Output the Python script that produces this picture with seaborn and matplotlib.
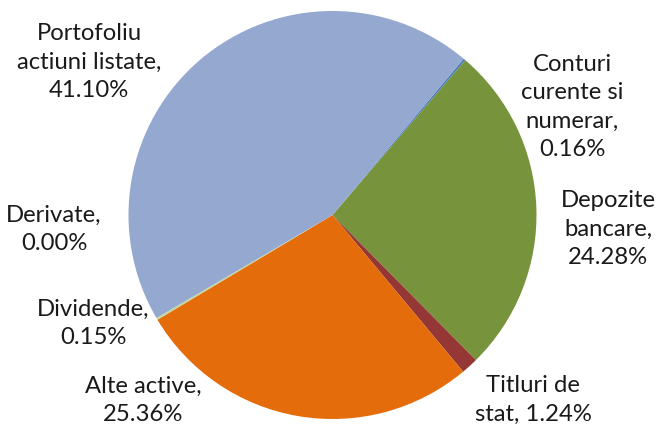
import matplotlib
matplotlib.use("Agg")
import matplotlib.pyplot as plt
import seaborn as sns

sns.set_theme(style="white")
plt.rcParams['font.family'] = ['Lato', 'DejaVu Sans']

# Data (clockwise from the upper-right boundary)
categories = ["Conturi curente si numerar", "Depozite bancare", "Titluri de stat",
              "Alte active", "Dividende", "Derivate", "Portofoliu actiuni listate"]
values = [0.16, 24.28, 1.24, 25.36, 0.15, 0.00, 41.10]
label_texts = ["Conturi\ncurente si\nnumerar,\n0.16%", "Depozite\nbancare,\n24.28%",
               "Titluri de\nstat, 1.24%", "Alte active,\n25.36%", "Dividende,\n0.15%",
               "Derivate,\n0.00%", "Portofoliu\nactiuni listate,\n41.10%"]
colors = ["#4A7EBB", "#77933C", "#953735", "#E46C0A", "#C3D69B", "#8064A2", "#94A8D0"]

W, H = 657, 426
fig = plt.figure(figsize=(W / 100, H / 100), dpi=100)
cx, cy, r = 332.5, 215, 204
ax = fig.add_axes([(cx - r) / W, (H - cy - r) / H, 2 * r / W, 2 * r / H])
ax.pie(values, colors=colors, startangle=50, counterclock=False, radius=1,
       wedgeprops=dict(linewidth=0))
ax.set_xlim(-1, 1)
ax.set_ylim(-1, 1)
ax.set_aspect('auto')
ax.axis('off')

# label positions in pixels (centre of text block)
label_pos = [(572, 107), (608, 229), (533, 400), (143, 400), (93, 323), (54, 229), (89, 62)]
for txt, (x, y) in zip(label_texts, label_pos):
    fig.text(x / W, 1 - y / H, txt, ha='center', va='center', fontsize=17.2,
             color='#1a1a1a', linespacing=1.42)

fig.savefig("out.png", dpi=100)
